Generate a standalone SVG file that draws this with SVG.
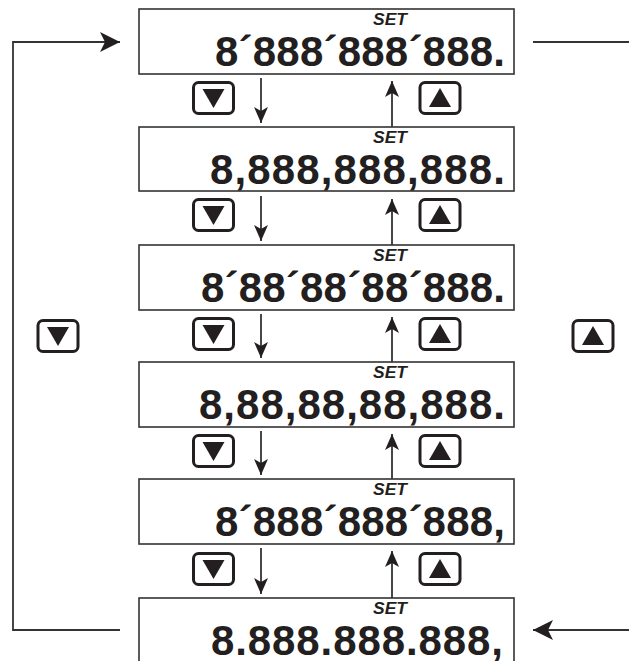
<svg xmlns="http://www.w3.org/2000/svg" width="629" height="661" viewBox="0 0 629 661">
<style>
.box{fill:#fff;stroke:#333;stroke-width:1.6}
.num{font-family:"Liberation Sans",Arial,sans-serif;font-weight:bold;font-size:42px;fill:#231f20}
.set{font-family:"Liberation Sans",Arial,sans-serif;font-weight:bold;font-style:italic;font-size:16px;fill:#231f20;text-anchor:middle}
.line{fill:none;stroke:#333;stroke-width:1.8}
</style>
<defs>
<marker id="big" markerUnits="userSpaceOnUse" markerWidth="20" markerHeight="20" refX="20" refY="10" orient="auto">
<path d="M0,0 L20,10 L0,20 L5,10 Z" fill="#231f20"/>
</marker>
<marker id="small" markerUnits="userSpaceOnUse" markerWidth="16" markerHeight="14" refX="16" refY="7" orient="auto">
<path d="M0,0 L16,7 L0,14 L4,7 Z" fill="#231f20"/>
</marker>
<g id="kdown"><rect x="-20" y="-15.5" width="40" height="31" rx="5" fill="#fff" stroke="#231f20" stroke-width="3"/><path d="M-11,-9 L11,-9 L0,10 Z" fill="#231f20"/></g>
<g id="kup"><rect x="-20" y="-15.5" width="40" height="31" rx="5" fill="#fff" stroke="#231f20" stroke-width="3"/><path d="M-11,9 L11,9 L0,-10 Z" fill="#231f20"/></g>
</defs>

<g id="connectors">
<path class="line" d="M120,630 H13 V42 H120" marker-end="url(#big)"/>
<path class="line" d="M533,42 H645 V630 H533" marker-end="url(#big)"/>
<path class="line" d="M261,78 V123" marker-end="url(#small)"/>
<path class="line" d="M392,127 V81" marker-end="url(#small)"/>
<path class="line" d="M261,196 V241" marker-end="url(#small)"/>
<path class="line" d="M392,245 V199" marker-end="url(#small)"/>
<path class="line" d="M261,314 V358" marker-end="url(#small)"/>
<path class="line" d="M392,362 V317" marker-end="url(#small)"/>
<path class="line" d="M261,431 V475" marker-end="url(#small)"/>
<path class="line" d="M392,479 V434" marker-end="url(#small)"/>
<path class="line" d="M261,548 V594" marker-end="url(#small)"/>
<path class="line" d="M392,598 V551" marker-end="url(#small)"/>
</g>

<g id="display1">
<rect class="box" x="139" y="9" width="375" height="65"/>
<text class="set" x="390" y="24.5" textLength="34" lengthAdjust="spacingAndGlyphs">SET</text>
<text class="num" x="215" y="66" textLength="290" lengthAdjust="spacing">8´888´888´888.</text>
</g>
<g id="display2">
<rect class="box" x="139" y="127" width="375" height="64"/>
<text class="set" x="390" y="142.5" textLength="34" lengthAdjust="spacingAndGlyphs">SET</text>
<text class="num" x="210" y="184" textLength="295" lengthAdjust="spacing">8,888,888,888.</text>
</g>
<g id="display3">
<rect class="box" x="139" y="245" width="375" height="65"/>
<text class="set" x="390" y="260.5" textLength="34" lengthAdjust="spacingAndGlyphs">SET</text>
<text class="num" x="201" y="302" textLength="304" lengthAdjust="spacing">8´88´88´88´888.</text>
</g>
<g id="display4">
<rect class="box" x="139" y="362" width="375" height="65"/>
<text class="set" x="390" y="377.5" textLength="34" lengthAdjust="spacingAndGlyphs">SET</text>
<text class="num" x="199" y="419" textLength="306" lengthAdjust="spacing">8,88,88,88,888.</text>
</g>
<g id="display5">
<rect class="box" x="139" y="479" width="375" height="65"/>
<text class="set" x="390" y="494.5" textLength="34" lengthAdjust="spacingAndGlyphs">SET</text>
<text class="num" x="215" y="536" textLength="290" lengthAdjust="spacing">8´888´888´888,</text>
</g>
<g id="display6">
<rect class="box" x="139" y="598" width="375" height="70"/>
<text class="set" x="390" y="613.5" textLength="34" lengthAdjust="spacingAndGlyphs">SET</text>
<text class="num" x="211" y="655" textLength="292" lengthAdjust="spacing">8.888.888.888,</text>
</g>

<g id="keys-row1"><use href="#kdown" x="213.5" y="98"/><use href="#kup" x="440" y="98"/></g>
<g id="keys-row2"><use href="#kdown" x="213.5" y="215"/><use href="#kup" x="440" y="215"/></g>
<g id="keys-row3"><use href="#kdown" x="213.5" y="334"/><use href="#kup" x="440" y="334"/></g>
<g id="keys-row4"><use href="#kdown" x="213.5" y="451"/><use href="#kup" x="440" y="451"/></g>
<g id="keys-row5"><use href="#kdown" x="213.5" y="569"/><use href="#kup" x="440" y="569"/></g>
<g id="key-left"><use href="#kdown" x="58" y="336"/></g>
<g id="key-right"><use href="#kup" x="593" y="336"/></g>
</svg>
